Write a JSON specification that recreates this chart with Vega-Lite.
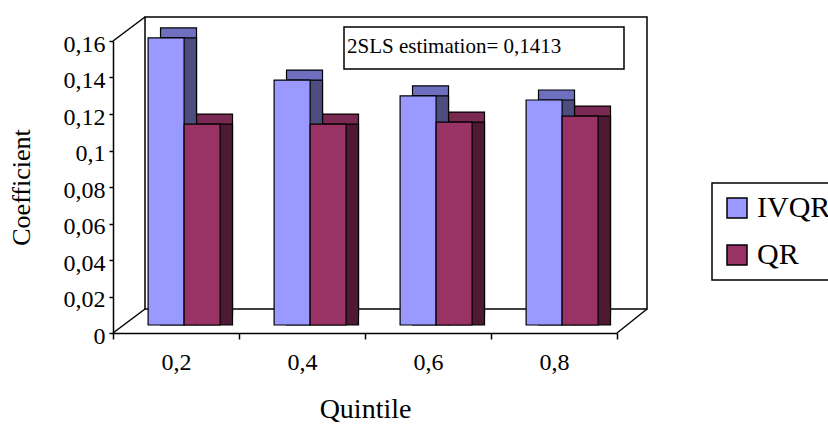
{
  "$schema": "https://vega.github.io/schema/vega-lite/v6.json",
  "width": 504,
  "height": 292,
  "autosize": {"type": "none"},
  "padding": {"left": 113, "top": 41, "right": 211, "bottom": 92},
  "background": "white",
  "config": {
    "view": {"stroke": null},
    "font": "Liberation Serif",
    "legend": {"strokeWidth": 1.5},
    "axis": {"grid": false, "domainColor": "black", "domainWidth": 1.5, "tickColor": "black", "tickWidth": 1.5, "labelColor": "black", "titleColor": "black", "titleFontWeight": "normal", "labelFontSize": 24},
    "axisX": {"tickBand": "extent", "tickSize": 6, "labelAngle": 0, "labelPadding": 11, "titleFontSize": 28, "titlePadding": 21},
    "axisY": {"labelOverlap": false, "labelPadding": 4, "labelOffset": 3, "tickSize": 4, "titleFontSize": 26, "titlePadding": 29}
  },
  "data": {
    "values": [
      {"quintile": "0,2", "series": "IVQR", "value": 0.1573},
      {"quintile": "0,2", "series": "QR", "value": 0.1101},
      {"quintile": "0,4", "series": "IVQR", "value": 0.1342},
      {"quintile": "0,4", "series": "QR", "value": 0.1101},
      {"quintile": "0,6", "series": "IVQR", "value": 0.1255},
      {"quintile": "0,6", "series": "QR", "value": 0.1112},
      {"quintile": "0,8", "series": "IVQR", "value": 0.1233},
      {"quintile": "0,8", "series": "QR", "value": 0.1145}
    ]
  },
  "layer": [
    {
      "data": {"values": [{}]},
      "mark": {"type": "rect", "fill": null, "fillOpacity": 0, "stroke": "black", "strokeWidth": 1.5, "xOffset": 32, "x2Offset": 30, "yOffset": -24, "y2Offset": -24},
      "encoding": {
        "x": {"datum": "0,2", "bandPosition": 0, "type": "nominal"},
        "x2": {"datum": "0,8", "bandPosition": 1},
        "y": {"datum": 0.16, "type": "quantitative"},
        "y2": {"datum": 0}
      }
    },
    {
      "data": {"values": [{}]},
      "mark": {"type": "rule", "stroke": "black", "strokeWidth": 1.5, "x2Offset": 32, "y2Offset": -24},
      "encoding": {
        "x": {"datum": "0,2", "bandPosition": 0, "type": "nominal"},
        "x2": {"datum": "0,2", "bandPosition": 0},
        "y": {"datum": 0, "type": "quantitative"},
        "y2": {"datum": 0}
      }
    },
    {
      "data": {"values": [{}]},
      "mark": {"type": "rule", "stroke": "black", "strokeWidth": 1.5, "x2Offset": 32, "y2Offset": -24},
      "encoding": {
        "x": {"datum": "0,2", "bandPosition": 0, "type": "nominal"},
        "x2": {"datum": "0,2", "bandPosition": 0},
        "y": {"datum": 0.16, "type": "quantitative"},
        "y2": {"datum": 0.16}
      }
    },
    {
      "data": {"values": [{}]},
      "mark": {"type": "rule", "stroke": "black", "strokeWidth": 1.5, "x2Offset": 30, "y2Offset": -24},
      "encoding": {
        "x": {"datum": "0,8", "bandPosition": 1, "type": "nominal"},
        "x2": {"datum": "0,8", "bandPosition": 1},
        "y": {"datum": 0, "type": "quantitative"},
        "y2": {"datum": 0}
      }
    },
    {
      "mark": {"type": "bar", "stroke": "black", "strokeWidth": 1.2, "yOffset": -18, "y2Offset": -18},
      "encoding": {
        "x": {"field": "quintile", "type": "nominal"},
        "xOffset": {"field": "series", "type": "nominal", "scale": {"paddingInner": 0, "paddingOuter": 0.75, "align": 0.88}},
        "y": {"field": "value", "type": "quantitative"},
        "fill": {"condition": {"test": "datum.series === 'IVQR'", "value": "#6f6fbf"}, "value": "#7a2952"}
      }
    },
    {
      "mark": {"type": "bar", "stroke": "black", "strokeWidth": 1.2, "yOffset": -8, "y2Offset": -18},
      "encoding": {
        "x": {"field": "quintile", "type": "nominal"},
        "xOffset": {"field": "series", "type": "nominal", "scale": {"paddingInner": 0, "paddingOuter": 0.75, "align": 0.88}},
        "y": {"field": "value", "type": "quantitative"},
        "fill": {"condition": {"test": "datum.series === 'IVQR'", "value": "#4d4d80"}, "value": "#4d1933"}
      }
    },
    {
      "mark": {"type": "bar", "stroke": "black", "strokeWidth": 1.2, "yOffset": -8, "y2Offset": -8},
      "encoding": {
        "x": {"field": "quintile", "type": "nominal", "scale": {"domain": ["0,2", "0,4", "0,6", "0,8"], "paddingInner": 0, "paddingOuter": 0},
          "axis": {"title": "Quintile"}},
        "xOffset": {"field": "series", "type": "nominal", "scale": {"paddingInner": 0, "paddingOuter": 0.75, "align": 0.65}},
        "y": {"field": "value", "type": "quantitative", "scale": {"domain": [0, 0.16], "nice": false, "zero": true},
          "axis": {"values": [0, 0.02, 0.04, 0.06, 0.08, 0.1, 0.12, 0.14, 0.16], "tickCount": 9, "labelOverlap": false, "labelExpr": "replace(format(datum.value, '.2~f'), '.', ',')", "title": "Coefficient"}},
        "color": {"field": "series", "type": "nominal",
          "scale": {"domain": ["IVQR", "QR"], "range": ["#9999ff", "#993366"]},
          "legend": {"orient": "none", "legendX": 599, "legendY": 142, "title": null, "symbolType": "square", "symbolSize": 400, "symbolStrokeColor": "black", "symbolStrokeWidth": 1.5, "symbolOpacity": 1, "labelFontSize": 30, "labelColor": "black", "labelOffset": 5, "strokeColor": "black", "fillColor": "white", "padding": 10, "rowPadding": 17}}
      }
    },
    {
      "data": {"values": [{}]},
      "mark": {"type": "rect", "fill": "white", "stroke": "black", "strokeWidth": 1.5, "xOffset": 105, "x2Offset": 7, "yOffset": -14, "y2Offset": 28},
      "encoding": {
        "x": {"datum": "0,4", "bandPosition": 0, "type": "nominal"},
        "x2": {"datum": "0,8", "bandPosition": 1},
        "y": {"datum": 0.16, "type": "quantitative"},
        "y2": {"datum": 0.16}
      }
    },
    {
      "data": {"values": [{}]},
      "mark": {"type": "text", "align": "left", "baseline": "alphabetic", "fontSize": 21, "fontWeight": "normal", "fill": "black", "xOffset": 108, "yOffset": 12},
      "encoding": {
        "x": {"datum": "0,4", "bandPosition": 0, "type": "nominal"},
        "y": {"datum": 0.16, "type": "quantitative"},
        "text": {"value": "2SLS estimation= 0,1413"}
      }
    }
  ],
  "resolve": {"scale": {"xOffset": "independent"}}
}
